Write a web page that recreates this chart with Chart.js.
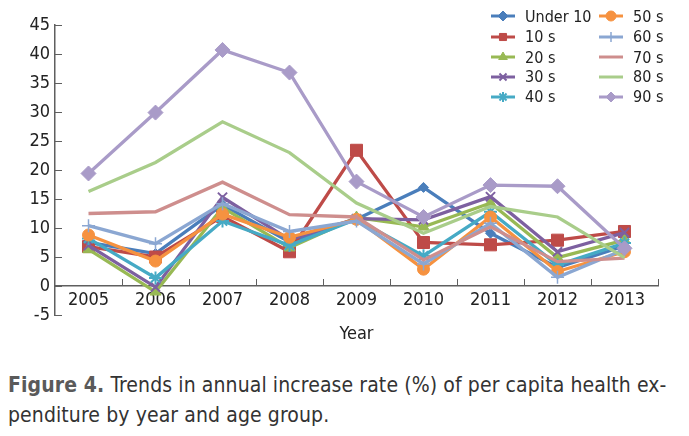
<!DOCTYPE html>
<html>
<head>
<meta charset="utf-8">
<script src="https://cdn.jsdelivr.net/npm/chart.js@4.4.0/dist/chart.umd.min.js"></script>
<style>
  html, body { margin:0; padding:0; background:#fff; }
  body { width:689px; height:436px; position:relative; overflow:hidden;
         font-family:"DejaVu Sans Condensed","DejaVu Sans",sans-serif; }
  #wrap { position:absolute; left:0; top:0; width:689px; height:350px; }
  #legend { position:absolute; left:0; top:0; width:689px; height:120px; pointer-events:none; }
  .item { position:absolute; height:20px; display:flex; align-items:center; }
  .item canvas { width:24px; height:14px; }
  .item span { margin-left:10px; font-size:16px; color:#222; white-space:nowrap; }
  #caption { position:absolute; left:8px; top:370px; font-size:21px; line-height:30px;
             color:#333; white-space:nowrap; letter-spacing:0.1px; }
  #caption b { color:#5a5a5a; }
</style>
</head>
<body>
<div id="wrap"><canvas id="c"></canvas></div>
<div id="legend"></div>
<div id="caption"><b>Figure 4.</b> Trends in annual increase rate (%) of per capita health ex-<br>penditure by year and age group.</div>
<script>
const years = ["2005","2006","2007","2008","2009","2010","2011","2012","2013"];
const seriesNames = ["Under 10","10 s","20 s","30 s","40 s","50 s","60 s","70 s","80 s","90 s"];
const under10 = [7.5, 5.6, 14.0, 7.6, 11.5, 17.0, 9.1, 3.2, 6.9];
const s10 = [6.8, 5.0, 12.0, 5.9, 23.4, 7.5, 7.1, 7.9, 9.4];
const s20 = [6.3, -1.0, 13.5, 6.6, 11.8, 10.2, 14.3, 4.9, 7.9];
const s30 = [7.0, -0.2, 15.3, 8.0, 11.6, 11.4, 15.4, 5.9, 9.2];
const s40 = [8.2, 1.4, 11.2, 7.0, 11.5, 5.2, 12.8, 3.6, 7.4];
const s50 = [8.8, 4.3, 12.4, 8.4, 11.5, 2.9, 11.9, 2.5, 5.9];
const s60 = [10.4, 7.3, 14.2, 9.4, 11.2, 3.8, 10.8, 1.5, 6.3];
const s70 = [12.5, 12.8, 17.9, 12.3, 11.9, 4.5, 10.2, 4.2, 4.8];
const s80 = [16.3, 21.3, 28.3, 23.0, 14.3, 9.1, 13.7, 11.9, 4.9];
const s90 = [19.4, 29.9, 40.7, 36.8, 18.0, 11.9, 17.4, 17.2, 6.5];
const yTicks = [-5, 0, 5, 10, 15, 20, 25, 30, 35, 40, 45];

const allValues = [under10, s10, s20, s30, s40, s50, s60, s70, s80, s90];
const colors = ["#4A7EBB","#BE4B48","#98B954","#7D60A0","#46AAC5","#F69240","#8BA7D2","#CE8E8D","#A9CD8A","#A99BC8"];
const styles = [
  {ps:"rectRot", r:5, bw:1},
  {ps:"rect", r:8.5, bw:1},
  {ps:"triangle", r:6.5, bw:1},
  {ps:"crossRot", r:6.5, bw:2},
  {ps:"star", r:6.5, bw:2},
  {ps:"circle", r:6, bw:1},
  {ps:"cross", r:6.5, bw:1.5},
  {ps:"circle", r:0, bw:0},
  {ps:"circle", r:0, bw:0},
  {ps:"rectRot", r:7.5, bw:1}
];
const FONT = "'DejaVu Sans Condensed','DejaVu Sans',sans-serif";
const N = seriesNames.length;

const datasets = seriesNames.map((name, i) => ({
  label: name,
  data: allValues[i],
  borderColor: colors[i],
  backgroundColor: colors[i],
  borderWidth: 3.3,
  pointStyle: styles[i].ps,
  pointRadius: styles[i].r,
  pointBorderWidth: styles[i].bw,
  pointBorderColor: colors[i],
  pointBackgroundColor: colors[i],
  tension: 0,
  order: N - 1 - i
}));

const tickPlugin = {
  id: 'axisTicks',
  afterDraw(chart) {
    const ctx = chart.ctx;
    const x = chart.scales.x, y = chart.scales.y;
    const left = chart.chartArea.left;
    const y0 = y.getPixelForValue(0);
    ctx.save();
    ctx.strokeStyle = '#5f5f5f';
    ctx.lineWidth = 1;
    ctx.beginPath();
    yTicks.forEach(v => {
      const py = Math.round(y.getPixelForValue(v)) + 0.5;
      ctx.moveTo(left, py); ctx.lineTo(left + 7, py);
    });
    const step = x.getPixelForValue(1) - x.getPixelForValue(0);
    for (let i = 0; i < years.length; i++) {
      const px = Math.round(x.getPixelForValue(i) + step / 2) + 0.5;
      ctx.moveTo(px, y0); ctx.lineTo(px, y0 - 7);
    }
    ctx.stroke();
    ctx.restore();
  }
};

new Chart(document.getElementById('c'), {
  type: 'line',
  data: { labels: years, datasets },
  options: {
    responsive: true,
    maintainAspectRatio: false,
    animation: false,
    devicePixelRatio: 1,
    layout: { padding: { left: 0, top: 25, right: 31, bottom: 35 } },
    plugins: { legend: { display: false }, tooltip: { enabled: false } },
    scales: {
      x: {
        type: 'category',
        position: { y: 0 },
        offset: true,
        grid: { display: false, drawTicks: false },
        border: { display: true, color: '#5f5f5f', width: 1.5 },
        ticks: { color: '#222', font: { family: FONT, size: 18 }, padding: 4, maxRotation: 0 },
        title: { display: true, text: 'Year', color: '#222', font: { family: FONT, size: 18 }, padding: { top: 8, bottom: 0 } }
      },
      y: {
        min: -5, max: 45,
        afterBuildTicks(scale) { scale.ticks = yTicks.map(v => ({ value: v })); },
        afterFit(scale) { scale.width = 55; },
        grid: { display: false, drawTicks: false },
        border: { display: true, color: '#5f5f5f', width: 1.5 },
        ticks: { color: '#222', font: { family: FONT, size: 18 }, padding: 5 }
      }
    }
  },
  plugins: [tickPlugin]
});

// HTML legend (two columns, column-major like the reference)
const legend = document.getElementById('legend');
const colX = [491, 599];
const rowY = [16, 36.5, 57, 76.5, 96.5];
seriesNames.forEach((name, i) => {
  const col = Math.floor(i / 5), row = i % 5;
  const div = document.createElement('div');
  div.className = 'item';
  div.style.left = colX[col] + 'px';
  div.style.top = (rowY[row] - 10) + 'px';
  const cv = document.createElement('canvas');
  cv.width = 24; cv.height = 14;
  const c = cv.getContext('2d');
  c.strokeStyle = colors[i]; c.lineWidth = 3;
  c.beginPath(); c.moveTo(0, 7); c.lineTo(24, 7); c.stroke();
  if (styles[i].r > 0) {
    c.fillStyle = colors[i]; c.strokeStyle = colors[i];
    c.lineWidth = styles[i].bw;
    Chart.helpers.drawPoint(c, { pointStyle: styles[i].ps, radius: Math.min(styles[i].r, 5), rotation: 0, borderWidth: styles[i].bw }, 12, 7);
  }
  const sp = document.createElement('span');
  sp.textContent = name;
  div.appendChild(cv); div.appendChild(sp);
  legend.appendChild(div);
});
</script>
</body>
</html>
